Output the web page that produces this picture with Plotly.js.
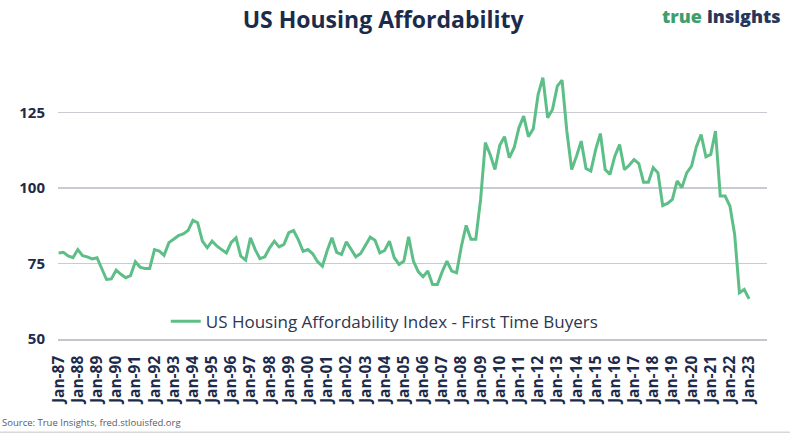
<!DOCTYPE html>
<html>
<head>
<meta charset="utf-8">
<script src="https://cdn.plot.ly/plotly-3.0.1.min.js"></script>
<style>
  html, body { margin: 0; padding: 0; background: #ffffff; }
  #chart { width: 790px; height: 434px; }
</style>
</head>
<body>
<div id="chart"></div>
<script>
// Quarterly series, 1987 Q1 .. 2023 Q1
const startYear = 1987;
const seriesName = "US Housing Affordability Index - First Time Buyers";
const affordability = [
  78.5, 78.7, 77.5, 76.9, 79.6, 77.6, 77.2, 76.5,   // 1987-88
  76.9, 73.6, 69.7, 69.9, 72.8, 71.4, 70.3, 71.0,   // 1989-90
  75.6, 73.8, 73.3, 73.3, 79.6, 79.1, 77.7, 81.9,   // 1991-92
  83.0, 84.2, 84.8, 85.9, 89.3, 88.5, 82.4, 80.2,   // 1993-94
  82.4, 80.8, 79.6, 78.5, 82.0, 83.5, 77.4, 76.1,   // 1995-96
  83.5, 79.6, 76.6, 77.2, 80.2, 82.4, 80.5, 81.3,   // 1997-98
  85.2, 85.9, 82.9, 79.0, 79.6, 78.2, 75.6, 74.1,   // 1999-00
  79.2, 83.5, 78.7, 78.0, 82.2, 79.6, 77.2, 78.3,   // 2001-02
  81.0, 83.7, 82.7, 78.5, 79.3, 82.4, 76.9, 74.7,   // 2003-04
  75.8, 83.8, 75.8, 72.3, 70.6, 72.5, 68.0, 68.0,   // 2005-06
  72.3, 75.8, 72.5, 71.9, 80.7, 87.6, 83.0, 83.0,   // 2007-08
  96.2, 115.0, 111.1, 106.1, 114.1, 117.0, 110.0, 113.3, // 2009-10
  119.9, 123.8, 117.0, 119.6, 130.9, 136.5, 123.2, 126.0, // 2011-12
  133.7, 135.7, 118.8, 106.1, 110.5, 115.5, 106.4, 105.6, // 2013-14
  112.7, 118.0, 106.1, 104.5, 110.5, 114.4, 106.1, 107.5, // 2015-16
  109.4, 108.1, 101.9, 101.9, 106.7, 105.0, 94.2, 94.9,   // 2017-18
  96.2, 102.3, 100.1, 105.0, 107.2, 113.6, 117.7, 110.3,  // 2019-20
  111.1, 118.8, 97.3, 97.3, 94.0, 84.6, 65.3, 66.4,       // 2021-22
  63.3                                                    // 2023 Q1
];
const tickYears = [];
for (let y = 1987; y <= 2023; y++) tickYears.push(y);
const tickLabels = tickYears.map(y => "Jan-" + String(y % 100).padStart(2, "0"));
const yTicks = [50, 75, 100, 125];

const dates = affordability.map((_, i) => {
  const yr = startYear + Math.floor(i / 4);
  const m = (i % 4) * 3 + 1;
  return yr + "-" + String(m).padStart(2, "0") + "-01";
});
const tickDates = tickYears.map(y => y + "-01-01");

const navy = "#1d2b4a";
const trace = {
  x: dates,
  y: affordability,
  type: "scatter",
  mode: "lines",
  name: seriesName,
  line: { color: "#5dbf87", width: 3 },
  hoverinfo: "x+y"
};

const layout = {
  width: 790,
  height: 434,
  margin: { l: 58, r: 23, t: 52, b: 95 },
  paper_bgcolor: "#ffffff",
  plot_bgcolor: "#ffffff",
  font: { family: "Open Sans, sans-serif", color: navy },
  title: {
    text: "<b>US Housing Affordability</b>",
    font: { family: "Open Sans, sans-serif", size: 23, color: navy },
    x: 0.485, xanchor: "center",
    y: 0.953, yanchor: "middle"
  },
  showlegend: true,
  legend: {
    x: 0.152, y: 0.06, xanchor: "left", yanchor: "middle",
    bgcolor: "rgba(0,0,0,0)",
    font: { family: "Open Sans, sans-serif", size: 17, color: "#2b3650" }
  },
  xaxis: {
    type: "date",
    range: ["1986-12-20", "2023-12-08"],
    tickmode: "array",
    tickvals: tickDates,
    ticktext: tickLabels,
    tickangle: -90,
    tickfont: { family: "Open Sans, sans-serif", size: 15.5, color: navy, weight: "bold" },
    showgrid: false,
    zeroline: false,
    showline: true,
    linecolor: "#c3c7cd",
    linewidth: 1.5,
    ticks: "",
    ticklabelstandoff: 9,
    fixedrange: true
  },
  yaxis: {
    range: [50, 145],
    tickmode: "array",
    tickvals: yTicks,
    ticktext: yTicks.map(String),
    tickfont: { family: "Open Sans, sans-serif", size: 15, color: navy, weight: "bold" },
    showgrid: true,
    gridcolor: "#c8cbd1",
    gridwidth: 1.5,
    zeroline: false,
    showline: false,
    ticks: "",
    ticklabelstandoff: 12,
    fixedrange: true
  },
  annotations: [
    {
      text: "true",
      xref: "paper", yref: "paper",
      x: 0.911, y: 1.125, xanchor: "right", yanchor: "middle",
      showarrow: false,
      font: { family: "Open Sans, sans-serif", size: 18, color: "#3f9e6e", weight: 800 }
    },
    {
      text: "insights",
      xref: "paper", yref: "paper",
      x: 0.912, y: 1.125, xanchor: "left", yanchor: "middle",
      showarrow: false,
      font: { family: "Open Sans, sans-serif", size: 18, color: "#27365a", weight: 800 }
    },
    {
      text: "Source: True Insights, fred.stlouisfed.org",
      xref: "paper", yref: "paper",
      x: -0.082, y: -0.29, xanchor: "left", yanchor: "middle",
      showarrow: false,
      font: { family: "Open Sans, sans-serif", size: 9.5, color: "#555b66" }
    }
  ],
  shapes: [
    {
      type: "line", xref: "paper", yref: "paper",
      x0: -0.082, x1: 1.033, y0: -0.325, y1: -0.325,
      line: { color: "#d5d7db", width: 1.5 }
    }
  ]
};

Plotly.newPlot("chart", [trace], layout, { displayModeBar: false, staticPlot: true });
</script>
</body>
</html>
